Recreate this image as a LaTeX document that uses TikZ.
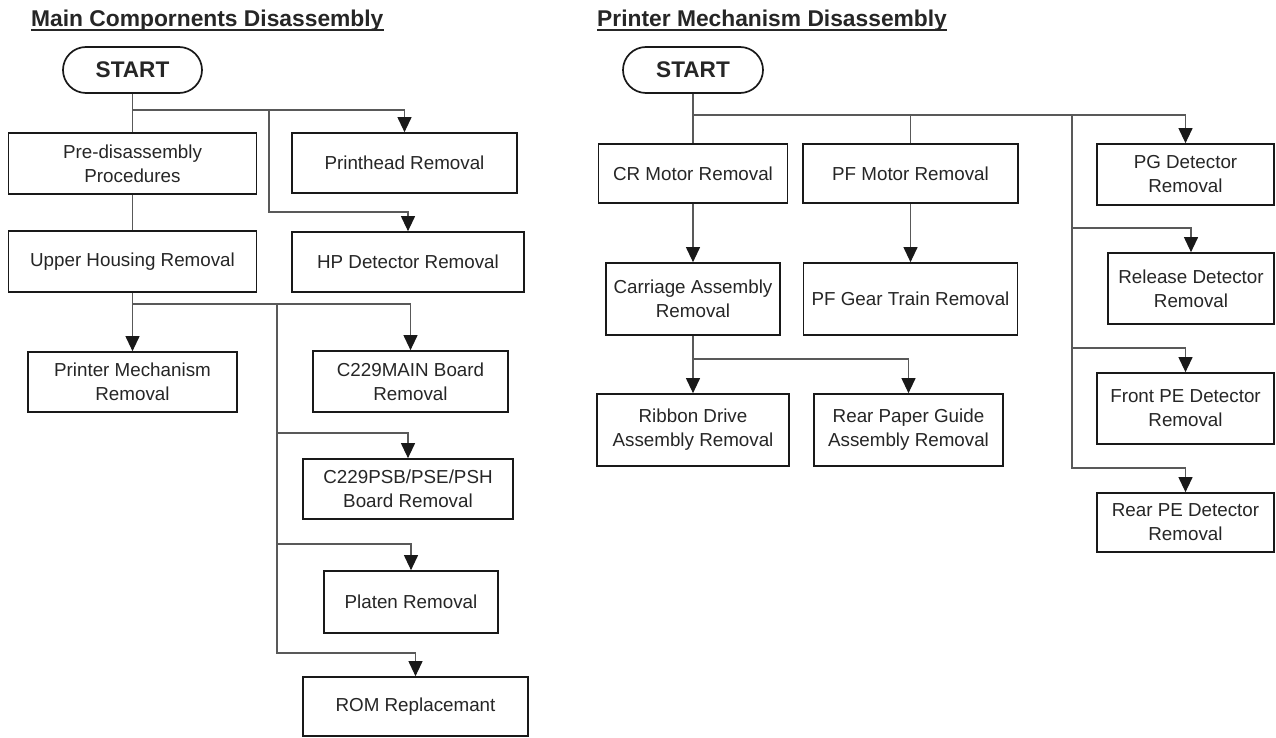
\documentclass[tikz,border=0pt]{standalone}
\usepackage{fontspec}
\setmainfont{Liberation Sans}
\usetikzlibrary{arrows.meta}
\begin{document}
\begin{tikzpicture}[x=1pt,y=-1pt,
  box/.style={draw=black!90, line width=1.7pt, inner sep=0pt, align=center,
    font=\fontsize{18.8}{24}\selectfont, text=black!85},
  startbox/.style={draw=black!90, line width=1.7pt, rounded corners=23pt,
    minimum width=139pt, minimum height=46pt, inner sep=0pt,
    font=\fontsize{22.6}{27}\selectfont\bfseries, text=black!85},
  title/.style={font=\fontsize{22.8}{27}\selectfont\bfseries, text=black!85,
    inner sep=0pt, anchor=base west},
  uline/.style={line width=1.8pt, draw=black!85},
  conn/.style={draw=black!65, line width=1.1pt},
  arr/.style={conn, -{Triangle[width=14pt,length=15pt,fill=black!90,color=black!90]}}
]
\path[use as bounding box, fill=white] (0,0) rectangle (1276,738);

% ---------- titles
\node[title] (tL) at (31,27) {Main Compornents Disassembly};
\draw[uline] ([yshift=-3pt]tL.base west) -- ([yshift=-3pt]tL.base east);
\node[title] (tR) at (597,27) {Printer Mechanism Disassembly};
\draw[uline] ([yshift=-3pt]tR.base west) -- ([yshift=-3pt]tR.base east);

% ---------- left chart
\node[startbox] (startL) at (132.5,70) {START};
\node[box, minimum width=248pt, minimum height=61pt] (pre) at (132.5,163.5) {Pre-disassembly\\Procedures};
\node[box, minimum width=225pt, minimum height=60pt] (ph) at (404.5,163) {Printhead Removal};
\node[box, minimum width=248pt, minimum height=61pt] (uh) at (132.5,261.5) {Upper Housing Removal};
\node[box, minimum width=232pt, minimum height=60pt] (hp) at (408,262) {HP Detector Removal};
\node[box, minimum width=209pt, minimum height=60pt] (pm) at (132.5,382) {Printer Mechanism\\Removal};
\node[box, minimum width=195pt, minimum height=61pt] (main) at (410.5,381.5) {C229MAIN Board\\Removal};
\node[box, minimum width=210pt, minimum height=60pt] (psb) at (408,489) {C229PSB/PSE/PSH\\Board Removal};
\node[box, minimum width=174pt, minimum height=62pt] (platen) at (411,602) {Platen Removal};
\node[box, minimum width=225pt, minimum height=59pt] (rom) at (415.5,706.5) {ROM Replacemant};

\coordinate (jL1) at (132.5,110);
\coordinate (bL1) at (269,110);
\coordinate (bL1a) at (269,212);
\draw[conn] (startL.south) -- (jL1) -- (pre.north);
\draw[arr] (jL1) -| (ph.north);
\draw[arr] (bL1) -- (bL1a) -| (hp.north);
\draw[conn] (pre.south) -- (uh.north);

\coordinate (jL2) at (132.5,304);
\coordinate (bL2) at (277,304);
\coordinate (bL2a) at (277,433);
\coordinate (bL2b) at (277,544);
\coordinate (bL2c) at (277,653);
\draw[conn] (uh.south) -- (jL2);
\draw[arr] (jL2) -- (pm.north);
\draw[arr] (jL2) -| (main.north);
\draw[arr] (bL2) -- (bL2a) -| (psb.north);
\draw[arr] (bL2a) -- (bL2b) -| (platen.north);
\draw[arr] (bL2b) -- (bL2c) -| (rom.north);

% ---------- right chart
\node[startbox, minimum width=140pt] (startR) at (693,70) {START};
\node[box, minimum width=189pt, minimum height=59pt] (cr) at (693,173.5) {CR Motor Removal};
\node[box, minimum width=215pt, minimum height=59pt] (pf) at (910.5,173.5) {PF Motor Removal};
\node[box, minimum width=177pt, minimum height=61pt] (pg) at (1185.5,174.5) {PG Detector\\Removal};
\node[box, minimum width=174pt, minimum height=72pt] (car) at (693,299) {Carriage Assembly\\Removal};
\node[box, minimum width=214pt, minimum height=72pt] (pfg) at (910.5,299) {PF Gear Train Removal};
\node[box, minimum width=166pt, minimum height=71pt] (rel) at (1191,288.5) {Release Detector\\Removal};
\node[box, minimum width=192pt, minimum height=72pt] (rib) at (693,430) {Ribbon Drive\\Assembly Removal};
\node[box, minimum width=189pt, minimum height=72pt] (rpg) at (908.5,430) {Rear Paper Guide\\Assembly Removal};
\node[box, minimum width=177pt, minimum height=71pt] (fpe) at (1185.5,408.5) {Front PE Detector\\Removal};
\node[box, minimum width=177pt, minimum height=59pt] (rpe) at (1185.5,522.5) {Rear PE Detector\\Removal};

\coordinate (jR1) at (693,115);
\coordinate (bR0) at (910.5,115);
\coordinate (bR1) at (1072,115);
\coordinate (bR1a) at (1072,228);
\coordinate (bR1b) at (1072,348);
\coordinate (bR1c) at (1072,468);
\draw[conn] (startR.south) -- (jR1) -- (cr.north);
\draw[arr] (jR1) -| (pg.north);
\draw[conn] (bR0) -- (pf.north);
\draw[arr] (bR1) -- (bR1a) -| (rel.north);
\draw[arr] (bR1a) -- (bR1b) -| (fpe.north);
\draw[arr] (bR1b) -- (bR1c) -| (rpe.north);

\draw[arr] (cr.south) -- (car.north);
\draw[arr] (pf.south) -- (pfg.north);
\coordinate (jR2) at (693,359);
\draw[conn] (car.south) -- (jR2);
\draw[arr] (jR2) -- (rib.north);
\draw[arr] (jR2) -| (rpg.north);
\end{tikzpicture}
\end{document}
